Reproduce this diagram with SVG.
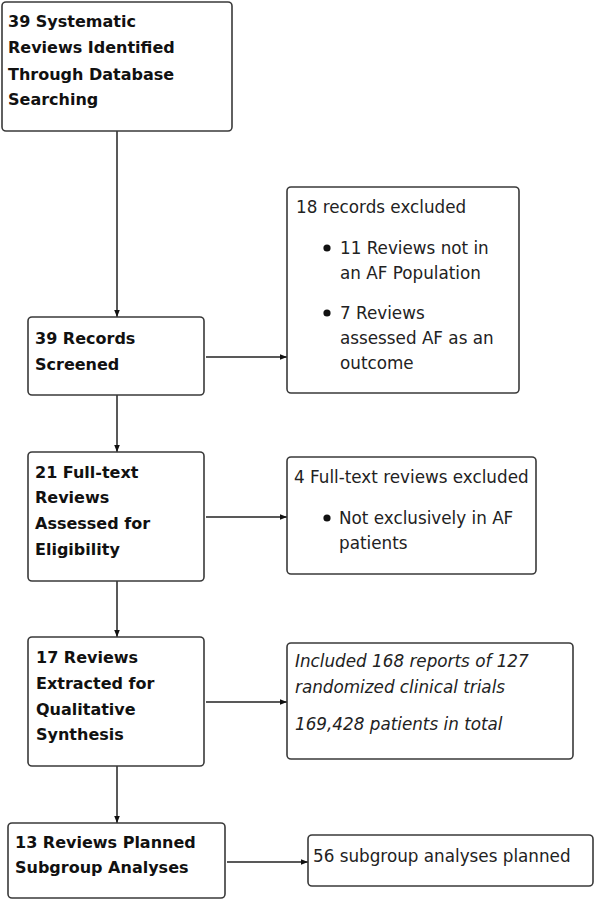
<svg xmlns="http://www.w3.org/2000/svg" width="596" height="903" viewBox="0 0 596 903">
<style>
.box{fill:#fff;stroke:#3a3a3a;stroke-width:1.6}
.b{font-family:"DejaVu Sans",Verdana,sans-serif;font-weight:bold;font-size:16px;fill:#111}
.n{font-family:"DejaVu Sans",Verdana,sans-serif;font-size:16.8px;fill:#222}
.i{font-style:italic}
.c{stroke:#222;stroke-width:1.5;fill:none;marker-end:url(#ah)}
.dot{fill:#111}
</style>
<defs>
<marker id="ah" viewBox="0 0 10 10" refX="10" refY="5" markerWidth="7" markerHeight="7" markerUnits="userSpaceOnUse" orient="auto">
<path d="M0,1 L10,5 L0,9 z" fill="#111"/>
</marker>
</defs>
<rect width="596" height="903" fill="#fff"/>
<g id="connectors">
<line class="c" x1="117" y1="131" x2="117" y2="317"/>
<line class="c" x1="117" y1="395" x2="117" y2="452"/>
<line class="c" x1="117" y1="581" x2="117" y2="637"/>
<line class="c" x1="117" y1="766" x2="117" y2="823"/>
<line class="c" x1="206" y1="357" x2="287" y2="357"/>
<line class="c" x1="206" y1="517" x2="287" y2="517"/>
<line class="c" x1="206" y1="702" x2="287" y2="702"/>
<line class="c" x1="227" y1="862" x2="308" y2="862"/>
</g>
<g id="n1">
<rect class="box" x="2" y="2" width="230" height="129" rx="4"/>
<text class="b" x="8"><tspan x="8" y="27">39 Systematic</tspan><tspan x="8" y="53">Reviews Identified</tspan><tspan x="8" y="80">Through Database</tspan><tspan x="8" y="105">Searching</tspan></text>
</g>
<g id="n2">
<rect class="box" x="28" y="317" width="176" height="78" rx="4"/>
<text class="b"><tspan x="35" y="344">39 Records</tspan><tspan x="35" y="370">Screened</tspan></text>
</g>
<g id="n3">
<rect class="box" x="287" y="187" width="232" height="206" rx="4"/>
<text class="n" x="296" y="213">18 records excluded</text>
<circle class="dot" cx="327" cy="248" r="3.6"/>
<circle class="dot" cx="327" cy="313" r="3.6"/>
<text class="n"><tspan x="340" y="254">11 Reviews not in</tspan><tspan x="340" y="279">an AF Population</tspan><tspan x="340" y="319">7 Reviews</tspan><tspan x="340" y="344">assessed AF as an</tspan><tspan x="340" y="369">outcome</tspan></text>
</g>
<g id="n4">
<rect class="box" x="28" y="452" width="176" height="129" rx="4"/>
<text class="b"><tspan x="35" y="478">21 Full-text</tspan><tspan x="35" y="503">Reviews</tspan><tspan x="35" y="529">Assessed for</tspan><tspan x="35" y="555">Eligibility</tspan></text>
</g>
<g id="n5">
<rect class="box" x="287" y="457" width="249" height="117" rx="4"/>
<text class="n" x="294" y="483">4 Full-text reviews excluded</text>
<circle class="dot" cx="327" cy="518" r="3.6"/>
<text class="n"><tspan x="339" y="524">Not exclusively in AF</tspan><tspan x="339" y="549">patients</tspan></text>
</g>
<g id="n6">
<rect class="box" x="28" y="637" width="176" height="129" rx="4"/>
<text class="b"><tspan x="36" y="663">17 Reviews</tspan><tspan x="36" y="689">Extracted for</tspan><tspan x="36" y="715">Qualitative</tspan><tspan x="36" y="740">Synthesis</tspan></text>
</g>
<g id="n7">
<rect class="box" x="287" y="643" width="286" height="116" rx="4"/>
<text class="n i"><tspan x="295" y="667">Included 168 reports of 127</tspan><tspan x="295" y="693">randomized clinical trials</tspan><tspan x="295" y="730">169,428 patients in total</tspan></text>
</g>
<g id="n8">
<rect class="box" x="8" y="823" width="217" height="75" rx="4"/>
<text class="b"><tspan x="15" y="848">13 Reviews Planned</tspan><tspan x="15" y="873">Subgroup Analyses</tspan></text>
</g>
<g id="n9">
<rect class="box" x="308" y="835" width="285" height="51" rx="4"/>
<text class="n" x="313" y="862">56 subgroup analyses planned</text>
</g>
</svg>
